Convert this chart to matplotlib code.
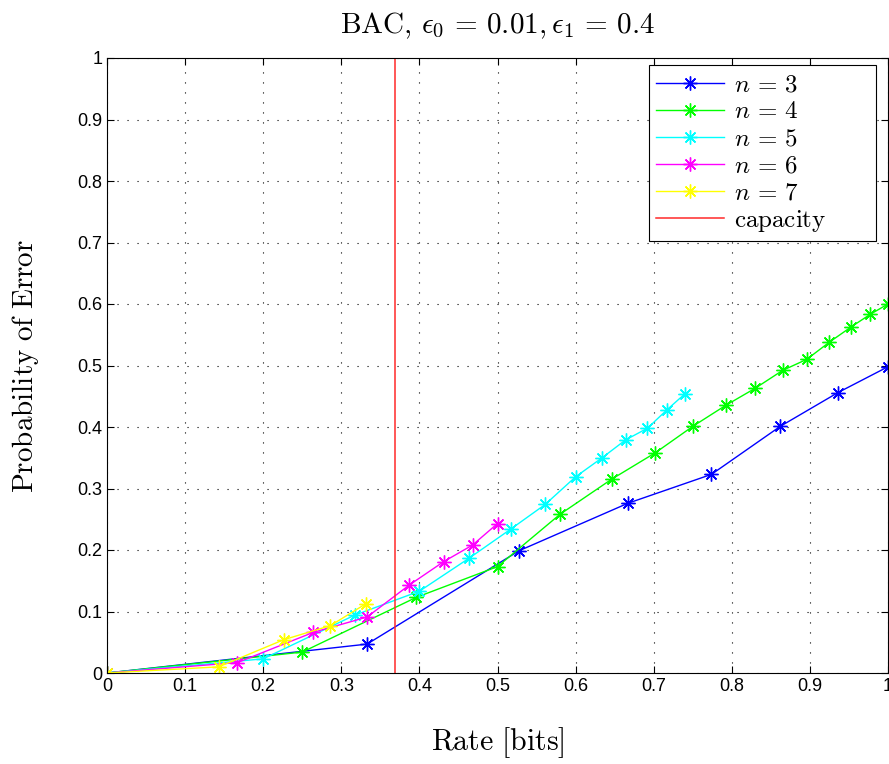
import numpy as np
import matplotlib
matplotlib.use("Agg")
import matplotlib.pyplot as plt

plt.rcParams['mathtext.fontset'] = 'cm'
plt.rcParams['font.family'] = ['Liberation Sans', 'DejaVu Sans']

# rates are log2(M)/n
rate_n3 = [0, 0.333, 0.528, 0.667, 0.774, 0.862, 0.936, 1.0]
err_n3 = [0, 0.047, 0.199, 0.276, 0.323, 0.401, 0.456, 0.498]

rate_n4 = [0, 0.25, 0.396, 0.5, 0.580, 0.646, 0.702, 0.75, 0.792, 0.830,
           0.865, 0.896, 0.925, 0.952, 0.977, 1.0]
err_n4 = [0, 0.034, 0.123, 0.173, 0.258, 0.315, 0.358, 0.401, 0.435, 0.463,
          0.492, 0.510, 0.538, 0.562, 0.583, 0.600]

rate_n5 = [0, 0.2, 0.317, 0.4, 0.464, 0.517, 0.561, 0.6, 0.634, 0.664,
           0.692, 0.717, 0.740]
err_n5 = [0, 0.023, 0.094, 0.133, 0.187, 0.234, 0.274, 0.319, 0.350, 0.379,
          0.398, 0.428, 0.454]

rate_n6 = [0, 0.167, 0.264, 0.333, 0.387, 0.431, 0.468, 0.5]
err_n6 = [0, 0.017, 0.066, 0.091, 0.143, 0.181, 0.208, 0.243]

rate_n7 = [0, 0.143, 0.226, 0.286, 0.332]
err_n7 = [0, 0.010, 0.054, 0.077, 0.113]

capacity = 0.369

series = [
    (rate_n3, err_n3, 'blue', r'$n\,=\,3$'),
    (rate_n4, err_n4, 'lime', r'$n\,=\,4$'),
    (rate_n5, err_n5, 'cyan', r'$n\,=\,5$'),
    (rate_n6, err_n6, 'magenta', r'$n\,=\,6$'),
    (rate_n7, err_n7, 'yellow', r'$n\,=\,7$'),
]

fig = plt.figure(figsize=(8.89, 7.64), dpi=100)
ax = fig.add_axes([107 / 889, 91 / 764, 781 / 889, 615 / 764])

star = (8, 2, 0)
for xs, ys, col, lab in series:
    ax.plot(xs, ys, color=col, lw=1.0, marker=star, ms=10, mew=1.0, label=lab)
# trailing no-break spaces widen the legend box like the original
ax.axvline(capacity, color='#ff2a2a', lw=1.1,
           label=r'$\mathrm{capacity}$' + '\u00a0' * 7)

ax.set_xlim(0, 1)
ax.set_ylim(0, 1)
ticks = np.round(np.arange(0, 1.01, 0.1), 1)
labels = ['0'] + ['%.1f' % t for t in ticks[1:-1]] + ['1']
ax.set_xticks(ticks)
ax.set_xticklabels(labels)
ax.set_yticks(ticks)
ax.set_yticklabels(labels)
ax.tick_params(direction='in', top=True, right=True, labelsize=13, length=5, width=0.8)
ax.grid(True, color='black', linestyle=(0, (1, 8)), lw=0.8)
for s in ax.spines.values():
    s.set_linewidth(0.8)

ax.set_title(r'$\mathrm{BAC},\, \epsilon_0\,=\,0.01, \epsilon_1\,=\,0.4$', fontsize=21, pad=18)
ax.set_xlabel(r'$\mathrm{Rate\ [bits]}$', fontsize=21.5, labelpad=22)
ax.set_ylabel(r'$\mathrm{Probability\ of\ Error}$', fontsize=21, labelpad=26)

leg = ax.legend(loc='upper right', bbox_to_anchor=(876 / 889, 699 / 764),
                bbox_transform=fig.transFigure, borderaxespad=0,
                fontsize=18, fancybox=False, edgecolor='black',
                framealpha=1, handlelength=2.7, handletextpad=0.4,
                labelspacing=0.12, borderpad=0.3)
leg.get_frame().set_linewidth(0.8)

fig.savefig('out.png', dpi=100)
